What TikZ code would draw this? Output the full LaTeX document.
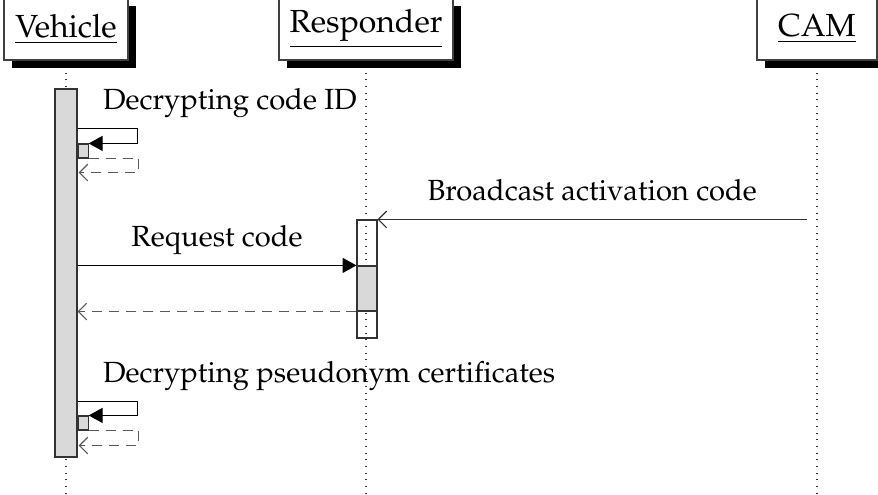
\documentclass[tikz,border=0pt]{standalone}
\usepackage[T1]{fontenc}
\usepackage{mathpazo}
\usetikzlibrary{arrows.meta,shadows}

\definecolor{actgray}{RGB}{217,217,217}
\tikzset{
  thread/.style={draw=black!75, fill=white, inner sep=0pt, minimum height=22.32pt,
    font=\fontsize{11.5pt}{13pt}\selectfont,
    drop shadow={fill=black, opacity=1, shadow xshift=2.88pt, shadow yshift=-2.88pt}},
  life/.style={dotted, black!80},
  act/.style={draw=black!80, fill=actgray, inner sep=0pt},
  callarr/.style={black, -{Triangle[length=5pt, width=5.4pt]}},
  retarr/.style={black!65, dash pattern=on 3.6pt off 2.5pt, -{Straight Barb[length=3pt, width=6pt]}},
  lbl/.style={font=\fontsize{10.5pt}{12pt}\selectfont, text=black, inner sep=0pt},
  msg/.style={lbl, midway, anchor=base, yshift=6.84pt},
}

\begin{document}
\begin{tikzpicture}[x=0.36pt, y=-0.36pt]
  \useasboundingbox (0,0) rectangle (878,495);
  \coordinate (bot) at (0,495);

  % threads
  \node[thread, minimum width=44.64pt] (veh) at (66,29) {\underline{Vehicle}};
  \node[thread, minimum width=62.64pt] (resp) at (366,29) {\underline{Responder}};
  \node[thread, minimum width=43.2pt] (cam) at (817,29) {\underline{CAM}};
  \foreach \t in {veh,resp,cam}
    \draw[life] ([yshift=-4.32pt]\t.south) -- (\t |- bot);

  % activations
  \node[act, minimum width=7.92pt, minimum height=132.48pt] (vact) at (66,273) {};
  \node[draw=black!80, inner sep=0pt, minimum width=7.2pt, minimum height=42.48pt] (ract) at (367,279) {};
  \node[act, minimum width=7.2pt, minimum height=16.2pt] (rgray) at (367,288.5) {};

  % decrypting code ID
  \coordinate (s1) at ([yshift=-14.4pt]vact.north east);
  \node[act, anchor=north west, minimum width=3.6pt, minimum height=5.04pt] (sb1) at ([yshift=-5.4pt]s1) {};
  \node[lbl, anchor=base west] (m1) at ([xshift=9pt, yshift=6.84pt]s1) {Decrypting code ID};
  \draw[callarr] (s1) -- ++(60,0) |- (sb1.north east);
  \draw[retarr] (sb1.south east) -- ++(50,0) -- ++(0,14) -- ++(-60,0);

  % broadcast
  \coordinate (c1) at ([xshift=-3.6pt]cam |- ract.north);
  \draw[black!80, -{Straight Barb[length=3pt, width=6pt]}] (c1) -- node[msg] (m2) {Broadcast activation code} (ract.north east);

  % request
  \draw[callarr] (vact.east |- rgray.north) -- node[msg] (m3) {Request code} (rgray.north west);
  \draw[retarr] (rgray.south west) -- (vact.east |- rgray.south);

  % decrypting pseudonym certificates
  \coordinate (s2) at ([yshift=-112.68pt]vact.north east);
  \node[act, anchor=north west, minimum width=3.6pt, minimum height=5.04pt] (sb2) at ([yshift=-5.04pt]s2) {};
  \node[lbl, anchor=base west] (m4) at ([xshift=9pt, yshift=6.84pt]s2) {Decrypting pseudonym certificates};
  \draw[callarr] (s2) -- ++(60,0) |- (sb2.north east);
  \draw[retarr] (sb2.south east) -- ++(50,0) -- ++(0,15) -- ++(-60,0);
\end{tikzpicture}
\end{document}
